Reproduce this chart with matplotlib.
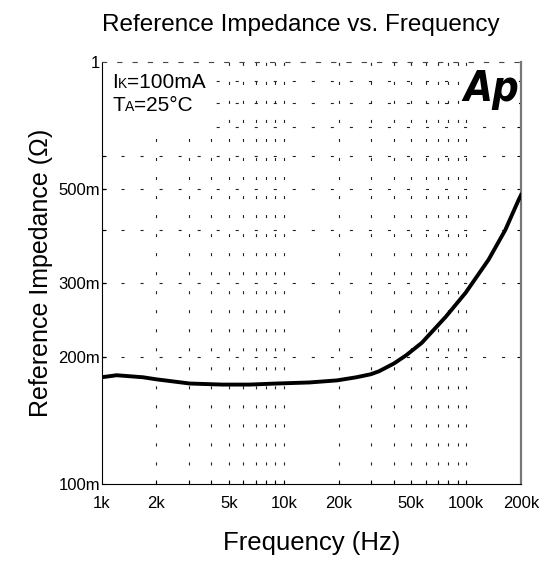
import matplotlib
matplotlib.use('Agg')
import matplotlib.pyplot as plt
from matplotlib.patches import Rectangle
from matplotlib.offsetbox import TextArea, HPacker, VPacker, AnchoredOffsetbox
import numpy as np

plt.rcParams['font.family'] = ['Liberation Sans', 'DejaVu Sans']
plt.rcParams['lines.scale_dashes'] = False

# Curve (Hz, Ohm)
freq = [1000, 1210, 1690, 2000, 3050, 4600, 6500, 9100, 13800, 19600,
        25000, 30000, 33300, 40200, 47000, 57100, 77300, 99400, 132700, 164000, 193500, 200000]
impedance = [0.179, 0.181, 0.179, 0.177, 0.173, 0.172, 0.172, 0.173, 0.174, 0.176,
             0.179, 0.182, 0.185, 0.193, 0.202, 0.216, 0.249, 0.284, 0.340, 0.400, 0.470, 0.484]

x_ticks = [1e3, 2e3, 5e3, 1e4, 2e4, 5e4, 1e5, 2e5]
x_labels = ['1k', '2k', '5k', '10k', '20k', '50k', '100k', '200k']
x_grid = [2e3, 3e3, 4e3, 5e3, 6e3, 7e3, 8e3, 9e3, 1e4,
          2e4, 3e4, 4e4, 5e4, 6e4, 7e4, 8e4, 9e4, 1e5]
y_ticks = [0.1, 0.2, 0.3, 0.5, 1.0]
y_labels = ['100m', '200m', '300m', '500m', '1']
y_grid = [0.2, 0.3, 0.4, 0.5, 0.6, 0.7, 0.8, 0.9]

fig = plt.figure(figsize=(5.52, 5.65), dpi=100)
ax = fig.add_axes([0.1839, 0.1434, 0.7600, 0.7469])

ax.set_xscale('log')
ax.set_yscale('log')
ax.set_xlim(1e3, 2e5)
ax.set_ylim(0.1, 1.0)

# keep minor grid lines even where they sit on a labelled tick
ax.xaxis.remove_overlapping_locs = False
ax.yaxis.remove_overlapping_locs = False

ax.set_xticks(x_ticks)
ax.set_xticklabels(x_labels)
ax.set_xticks(x_grid, minor=True)
ax.set_xticklabels([], minor=True)
ax.set_yticks(y_ticks)
ax.set_yticklabels(y_labels)
ax.set_yticks(y_grid, minor=True)
ax.set_yticklabels([], minor=True)

ax.tick_params(axis='x', which='major', length=0, pad=9, labelsize=12)
ax.tick_params(axis='y', which='major', direction='in', length=3, pad=1, labelsize=12)
ax.tick_params(which='minor', direction='in', length=3, right=True, width=0.8)

ax.grid(True, which='minor', color='#222222', linewidth=0.8, linestyle=(0, (2.2, 11.5)))
ax.grid(False, which='major')

ax.spines['top'].set_linestyle((0, (3, 8)))
ax.spines['top'].set_color('#444444')
ax.spines['right'].set_color('#777777')
ax.spines['right'].set_linewidth(1.6)

# white box behind the conditions text
ax.add_patch(Rectangle((0, 0.827), 0.27, 0.173, transform=ax.transAxes,
                       facecolor='white', edgecolor='none', zorder=2))

ax.plot(freq, impedance, color='black', linewidth=2.8, zorder=3)

line1 = HPacker(children=[TextArea('I', textprops=dict(size=15)),
                          TextArea('K', textprops=dict(size=10)),
                          TextArea('=100mA', textprops=dict(size=15))],
                align='baseline', pad=0, sep=0)
line2 = HPacker(children=[TextArea('T', textprops=dict(size=15)),
                          TextArea('A', textprops=dict(size=10)),
                          TextArea('=25°C', textprops=dict(size=15))],
                align='baseline', pad=0, sep=0)
cond = VPacker(children=[line1, line2], align='left', pad=0, sep=3)
box = AnchoredOffsetbox(loc='upper left', child=cond, frameon=False,
                        bbox_to_anchor=(0.025, 0.975), bbox_transform=ax.transAxes,
                        borderpad=0, pad=0)
box.set_zorder(4)
ax.add_artist(box)

# logo: squeeze horizontally so it reads tall and narrow like the original
logo = ax.text(0.995, 0.985, 'Ap', transform=ax.transAxes, ha='right', va='top',
               fontsize=30, fontweight='heavy', fontstyle='italic', fontstretch='condensed',
               family=['Liberation Sans Narrow', 'DejaVu Sans'], zorder=4)
logo.set_bbox(dict(facecolor='white', edgecolor='none', pad=0))

fig.text(0.545, 0.955, 'Reference Impedance vs. Frequency', ha='center', va='center', fontsize=17.5)
ax.set_xlabel('Frequency (Hz)', fontsize=18.5, labelpad=14)
ax.set_ylabel('Reference Impedance (Ω)', fontsize=18, labelpad=4)

fig.savefig('out.png', dpi=100)
